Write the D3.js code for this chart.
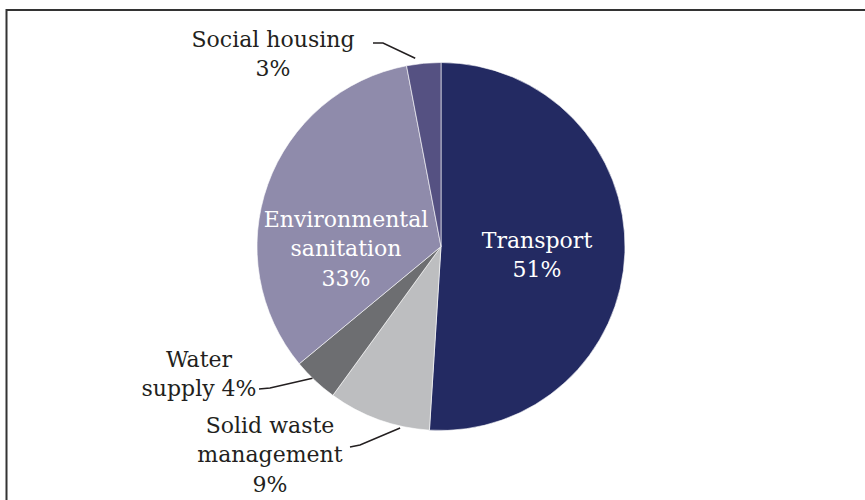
<!DOCTYPE html>
<html>
<head>
<meta charset="utf-8">
<script src="https://cdn.jsdelivr.net/npm/d3@7"></script>
<style>
  html, body { margin: 0; padding: 0; background: #fff; }
  svg { display: block; }
  text { font-family: "DejaVu Serif", "Liberation Serif", serif; font-size: 22px; }
</style>
</head>
<body>
<svg id="chart" width="865" height="500"></svg>
<script>
// Share of spending by sector (%)
const categories = ["Transport", "Solid waste management", "Water supply", "Environmental sanitation", "Social housing"];
const shares = [51, 9, 4, 33, 3];
const colors = ["#232a62", "#bdbec0", "#6d6e71", "#8f8bab", "#555182"];
// Label text per slice; {v} is replaced by the slice value
const labelTemplates = ["Transport\n{v}%", "Solid waste\nmanagement\n{v}%", "Water\nsupply {v}%", "Environmental\nsanitation\n{v}%", "Social housing\n{v}%"];

// Label placement: centre x and first baseline y; inside labels are white
const labelLayout = [
  { x: 537, y: 248, inside: true },
  { x: 270, y: 433, inside: false, leader: { start: [350, 447], elbow: [360, 445], angle: 192.7, r: 186 } },
  { x: 199, y: 367, inside: false, leader: { start: [259, 389], elbow: [270, 388], angle: 224.3, r: 184 } },
  { x: 346, y: 227, inside: true },
  { x: 273, y: 47, inside: false, leader: { start: [373, 43], elbow: [383, 43], angle: -7.8, r: 190 } }
];

const svg = d3.select("#chart");
const cx = 441, cy = 246.5, radius = 184, lineHeight = 29.3;

// Frame (open on the right and bottom)
svg.append("path")
  .attr("d", "M6.5,510 V10 H875")
  .attr("fill", "none")
  .attr("stroke", "#333")
  .attr("stroke-width", 2);

const data = categories.map((c, i) => ({ name: c, value: shares[i], color: colors[i], tpl: labelTemplates[i], layout: labelLayout[i] }));

const pie = d3.pie().sort(null).value(d => d.value);
const arc = d3.arc().innerRadius(0).outerRadius(radius);

const g = svg.append("g").attr("transform", `translate(${cx},${cy})`);
g.selectAll("path.slice")
  .data(pie(data))
  .join("path")
  .attr("class", "slice")
  .attr("d", arc)
  .attr("fill", d => d.data.color)
  .attr("stroke", "#ffffff")
  .attr("stroke-width", 0.6);

// Leader lines for outside labels
data.filter(d => d.layout.leader).forEach(d => {
  const L = d.layout.leader;
  const a = L.angle * Math.PI / 180;
  const end = [cx + L.r * Math.sin(a), cy - L.r * Math.cos(a)];
  svg.append("path")
    .attr("d", d3.line()([L.start, L.elbow, end]))
    .attr("fill", "none")
    .attr("stroke", "#231f20")
    .attr("stroke-width", 1.5);
});

// Labels
data.forEach(d => {
  const lines = d.tpl.replace("{v}", d.value).split("\n");
  const t = svg.append("text")
    .attr("text-anchor", "middle")
    .attr("fill", d.layout.inside ? "#ffffff" : "#231f20");
  lines.forEach((ln, i) => {
    t.append("tspan")
      .attr("x", d.layout.x)
      .attr("y", d.layout.y + i * lineHeight)
      .text(ln);
  });
});
</script>
</body>
</html>
